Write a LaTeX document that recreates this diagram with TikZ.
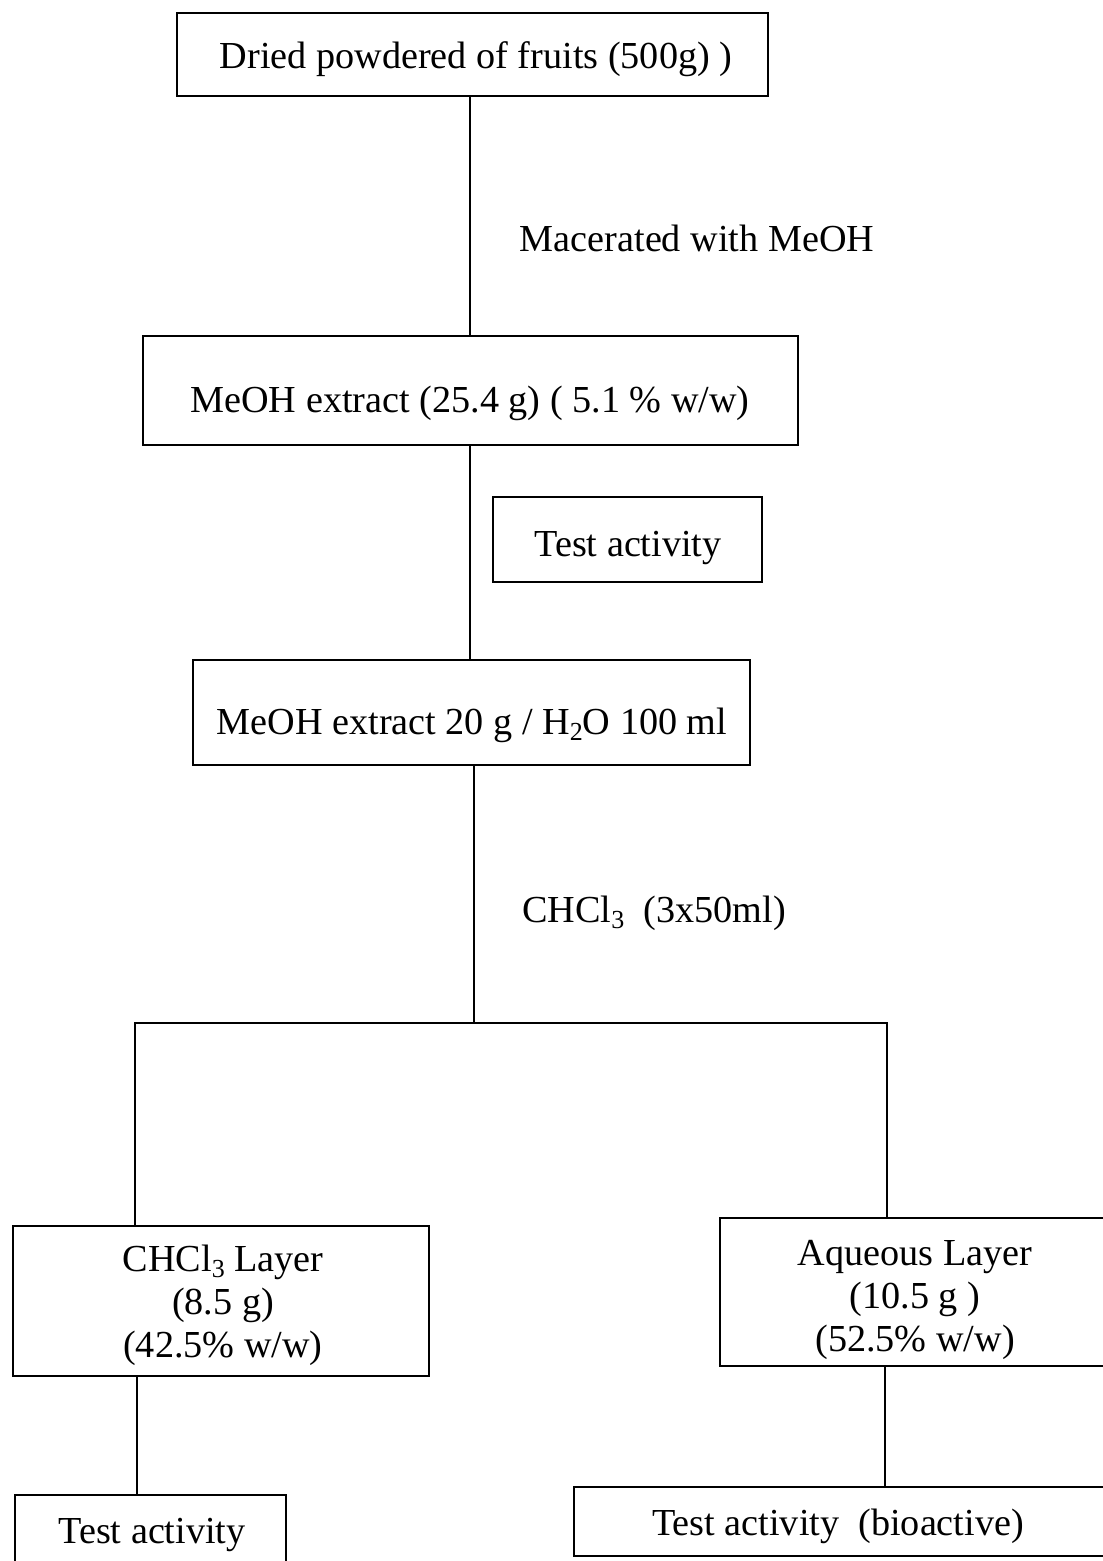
\documentclass[tikz,border=0pt]{standalone}
\usepackage{fontspec}
\setmainfont{Liberation Serif}
\newcommand{\mysub}[1]{\raisebox{-0.17em}{\fontsize{26}{26}\selectfont #1}}
\tikzset{
  boxst/.style={draw=black, line width=2.2pt, rectangle, inner sep=0pt},
  txt/.style={inner sep=0pt, font=\fontsize{38.2}{43}\selectfont, text=black},
  conn/.style={draw=black, line width=2.2pt},
}
\begin{document}
\begin{tikzpicture}[x=1pt,y=-1pt]
\useasboundingbox (0,0) rectangle (1103,1561);
\begin{scope}
\clip (0,0) rectangle (1103,1561);
% boxes
\node[boxst, minimum width=591pt, minimum height=83pt] (b1) at (472.5,54.5) {};
\node[boxst, minimum width=655pt, minimum height=109pt] (b2) at (470.5,390.5) {};
\node[boxst, minimum width=269pt, minimum height=85pt] (bt) at (627.5,539.5) {};
\node[boxst, minimum width=557pt, minimum height=105pt] (b3) at (471.5,712.5) {};
\node[boxst, minimum width=416pt, minimum height=150pt] (bl) at (221,1301) {};
\node[boxst, minimum width=395pt, minimum height=148pt] (br) at (917.5,1292) {};
\node[boxst, minimum width=271pt, minimum height=75pt] (bl2) at (150.5,1532.5) {};
\node[boxst, minimum width=541pt, minimum height=69pt] (br2) at (844.5,1521.5) {};
% texts
\node[txt, anchor=base] (t1) at (476,68) {Dried powdered of fruits (500g) )};
\node[txt, anchor=base] (tmac) at (697,251) {Macerated with MeOH};
\node[txt, anchor=base] (t2) at (470,412) {MeOH extract (25.4 g) ( 5.1 \% w/w)};
\node[txt, anchor=base] (tt) at (628,556) {Test activity};
\node[txt, anchor=base] (t3) at (472,734) {MeOH extract 20 g / H\mysub{2}O 100 ml};
\node[txt, anchor=base] (tchl) at (654,922) {CHCl\mysub{3}\ \ (3x50ml)};
\node[txt, align=center, anchor=center] (tl) at (223,1305) {CHCl\mysub{3} Layer\\(8.5 g)\\(42.5\% w/w)};
\node[txt, align=center, anchor=center] (tr) at (915,1300) {Aqueous Layer\\(10.5 g )\\(52.5\% w/w)};
\node[txt, anchor=base] (tl2) at (152,1543) {Test activity};
\node[txt, anchor=base] (tr2) at (838,1535) {Test activity\ \ (bioactive)};
% connector coordinates
\coordinate (c1) at (470,0);
\coordinate (c3) at (474,0);
\coordinate (jl) at (135,1023);
\coordinate (jr) at (887,1023);
\coordinate (cl2) at (137,0);
\coordinate (cr2) at (885,0);
% connectors
\draw[conn] (c1 |- b1.south) -- (c1 |- b2.north);
\draw[conn] (c1 |- b2.south) -- (c1 |- b3.north);
\draw[conn] (c3 |- b3.south) -- (c3 |- jl);
\draw[conn] (jl |- bl.north) -- (jl) -- (jr) -- (jr |- br.north);
\draw[conn] (cl2 |- bl.south) -- (cl2 |- bl2.north);
\draw[conn] (cr2 |- br.south) -- (cr2 |- br2.north);
\end{scope}
\end{tikzpicture}
\end{document}
